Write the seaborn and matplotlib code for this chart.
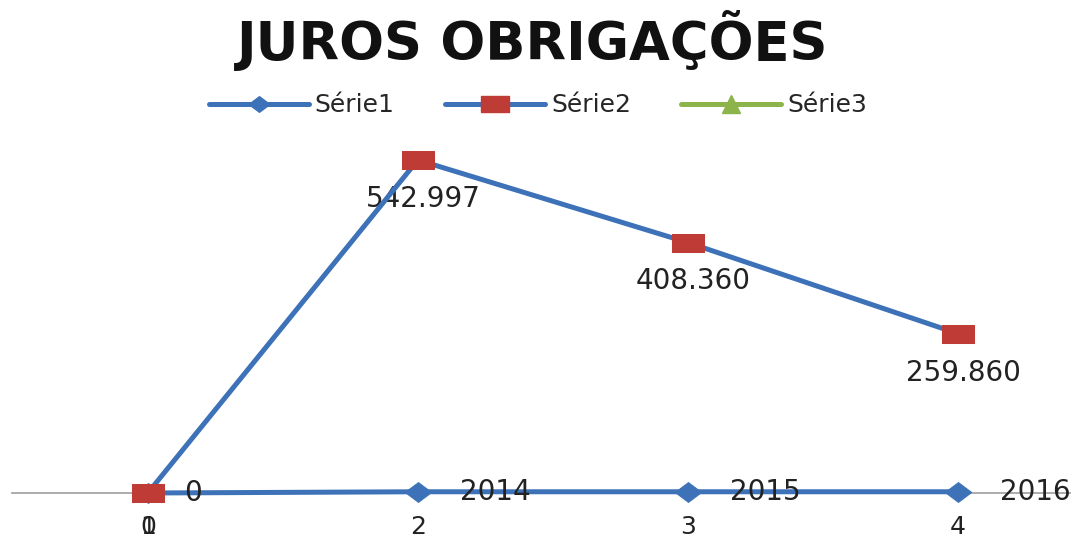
import pandas as pd
import matplotlib
matplotlib.use('Agg')
import matplotlib.pyplot as plt
from matplotlib.lines import Line2D
import seaborn as sns

# Chart values
pontos = [1, 2, 3, 4]
serie1 = [0, 2014, 2015, 2016]
serie2 = [0, 542997, 408360, 259860]
serie3 = []
tick_pos = [1, 2, 3, 4]
tick_labels = ['1', '2', '3', '4']
tick_extra = ['0']  # second label drawn on top of the first category
titulo = 'JUROS OBRIGAÇÕES'

azul = '#3D72B8'
vermelho = '#BE3B36'
verde = '#8DB44A'

df1 = pd.DataFrame({'x': pontos, 'y': serie1})
df2 = pd.DataFrame({'x': pontos, 'y': serie2})

sns.set_style('white')
plt.rcParams['font.family'] = ['DejaVu Sans']

fig = plt.figure(figsize=(10.82, 5.40), dpi=100)
ax = fig.add_axes([12 / 1082, 47 / 540, 1058 / 1082, 368 / 540])

# stretched marker shapes (the original is horizontally stretched)
quadrado = [(-1, -0.56), (1, -0.56), (1, 0.56), (-1, 0.56), (-1, -0.56)]
losango = [(-1, 0), (0, 0.75), (1, 0), (0, -0.75), (-1, 0)]

sns.lineplot(data=df1, x='x', y='y', ax=ax, color=azul, linewidth=3.6,
             marker=losango, markersize=19, markerfacecolor=azul,
             markeredgecolor=azul, clip_on=False, zorder=3)
sns.lineplot(data=df2, x='x', y='y', ax=ax, color=azul, linewidth=3.6,
             marker=quadrado, markersize=23, markerfacecolor=vermelho,
             markeredgecolor=vermelho, clip_on=False, zorder=4)

fmt = lambda v: f'{v:,}'.replace(',', '.')

# data labels
for x, v in zip(pontos[1:], serie1[1:]):
    ax.annotate(str(v), (x, v), xytext=(30, 0), textcoords='offset points',
                ha='left', va='center', fontsize=20, color='#222222')
for x, v in zip(pontos, serie2):
    if v == 0:
        ax.annotate(fmt(v), (x, v), xytext=(26, 0), textcoords='offset points',
                    ha='left', va='center', fontsize=20, color='#222222')
    else:
        ax.annotate(fmt(v), (x, v), xytext=(4, -28), textcoords='offset points',
                    ha='center', va='center', fontsize=20, color='#222222')

ax.set_xlim(0.497, 4.415)
ax.set_ylim(0, 600000)
ax.xaxis.remove_overlapping_locs = False
ax.set_xticks(tick_pos)
ax.set_xticklabels(tick_labels, fontsize=18, color='#222222')
ax.set_xticks(pontos[:1], minor=True)
ax.set_xticklabels(tick_extra, minor=True, fontsize=18, color='#222222')
ax.set_yticks([])
ax.tick_params(axis='x', which='both', length=0, pad=16)
ax.set_xlabel('')
ax.set_ylabel('')
for s in ['left', 'right', 'top']:
    ax.spines[s].set_visible(False)
ax.spines['bottom'].set_color('#A6A6A6')
ax.spines['bottom'].set_linewidth(1.3)

fig.text(0.492, 0.925, titulo, ha='center', va='center', fontsize=38,
         fontweight='bold', color='#111111')

handles = [
    Line2D([], [], color=azul, lw=3.6, marker=losango, markersize=15,
           markerfacecolor=azul, markeredgecolor=azul),
    Line2D([], [], color=azul, lw=3.6, marker=quadrado, markersize=20,
           markerfacecolor=vermelho, markeredgecolor=vermelho),
    Line2D([], [], color=verde, lw=3.6, marker='^', markersize=13,
           markerfacecolor=verde, markeredgecolor=verde),
]
fig.legend(handles, ['Série1', 'Série2', 'Série3'], loc='center',
           bbox_to_anchor=(0.497, 0.805), ncol=3, frameon=False, fontsize=18,
           handlelength=4.0, handletextpad=0.25, columnspacing=2.0)

fig.savefig('out.png', dpi=100)
